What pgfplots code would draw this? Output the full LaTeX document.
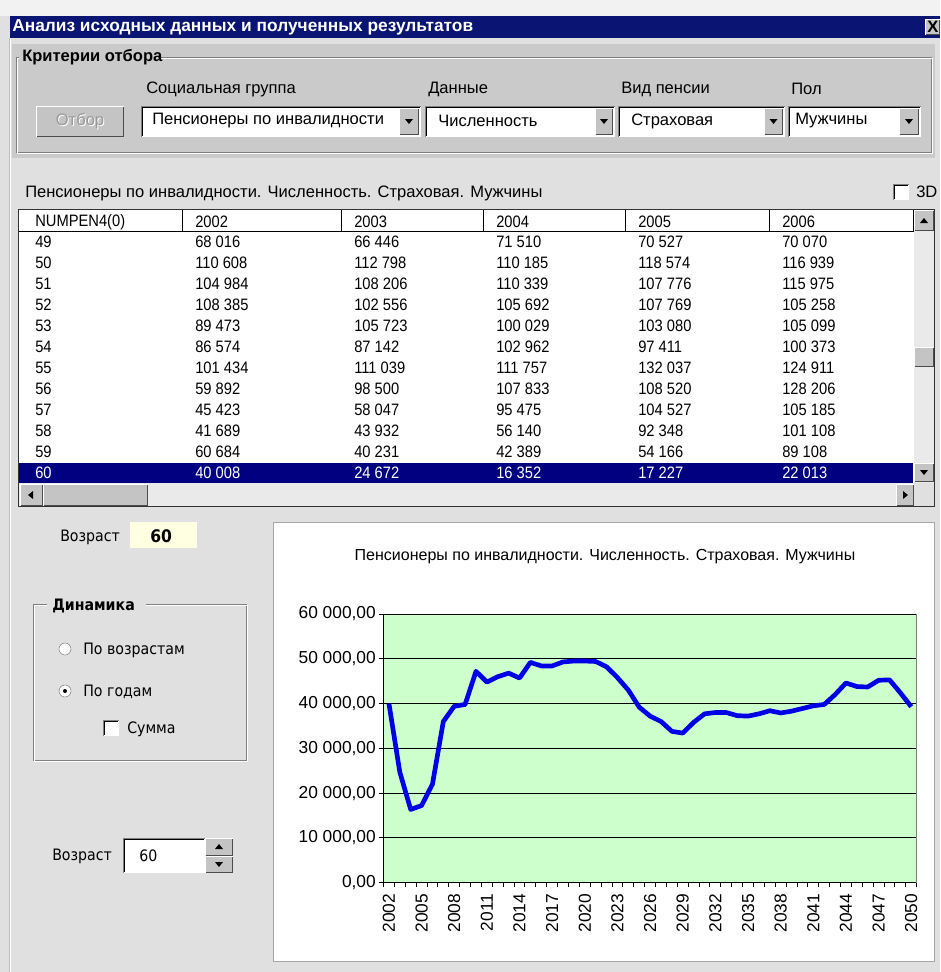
\documentclass[border=0pt]{standalone}
\usepackage{fontspec}
\usepackage{pgfplots}
\pgfplotsset{compat=1.18}
\setmainfont{Liberation Sans}
\newfontfamily\tah[FakeStretch=0.9]{DejaVu Sans}
\newfontfamily\narrow[FakeStretch=0.89]{Liberation Sans}
\definecolor{winbg}{RGB}{224,224,224}
\definecolor{grpbg}{RGB}{202,202,202}
\definecolor{navy}{RGB}{10,20,115}
\definecolor{selrow}{RGB}{0,0,128}
\definecolor{btn}{RGB}{196,196,196}
\definecolor{track}{RGB}{234,234,234}
\definecolor{plotgreen}{RGB}{204,255,204}
\definecolor{lineblue}{RGB}{0,0,230}
\definecolor{ylw}{RGB}{255,255,225}
\definecolor{dkgray}{RGB}{128,128,128}
\newcommand\uif{\fontsize{12.4pt}{14pt}\selectfont}
\newcommand\tabf{\narrow\fontsize{12.4pt}{14pt}\selectfont}
\newcommand\chf{\fontsize{13pt}{15pt}\selectfont}
\newcommand\titf{\fontsize{13pt}{15pt}\selectfont\bfseries}
\newcommand\tahf{\tah\fontsize{11.8pt}{13pt}\selectfont}
\newcommand\raised[4]{%
  \fill[btn] (#1,#2) rectangle (#3,#4);
  \draw[white] (#1+0.5,#4-0.5) -- (#1+0.5,#2+0.5) -- (#3-0.5,#2+0.5);
  \draw[black!70] (#1+0.5,#4-0.5) -- (#3-0.5,#4-0.5) -- (#3-0.5,#2+0.5);}
\newcommand\sunken[4]{%
  \fill[white] (#1,#2) rectangle (#3,#4);
  \draw[dkgray] (#1+0.5,#4-0.5) -- (#1+0.5,#2+0.5) -- (#3-0.5,#2+0.5);
  \draw[black] (#1+1.5,#4-1.5) -- (#1+1.5,#2+1.5) -- (#3-1.5,#2+1.5);
  \draw[white] (#1+0.5,#4-0.5) -- (#3-0.5,#4-0.5) -- (#3-0.5,#2+0.5);}
\newcommand\arrD[2]{\fill[black] (#1-4,#2-2) -- (#1+4,#2-2) -- (#1,#2+3) -- cycle;}
\newcommand\arrU[2]{\fill[black] (#1-4,#2+2) -- (#1+4,#2+2) -- (#1,#2-3) -- cycle;}
\newcommand\arrL[2]{\fill[black] (#1+2,#2-4) -- (#1+2,#2+4) -- (#1-3,#2) -- cycle;}
\newcommand\arrR[2]{\fill[black] (#1-2,#2-4) -- (#1-2,#2+4) -- (#1+3,#2) -- cycle;}
\newcommand\combo[5]{% x1 x2 arrowx1 text textx
  \sunken{#1}{106}{#2}{137}
  \raised{#3}{108}{#2-2}{135}
  \pgfmathsetmacro\ax{(#3+#2-2)/2}
  \arrD{\ax}{121}
  \node[anchor=west,inner sep=0,font=\uif] at (#5,121) {#4};}
\begin{document}
\begin{tikzpicture}[x=0.75pt,y=-0.75pt]
\path[use as bounding box] (0,0) rectangle (940,972);
\fill[winbg] (0,0) rectangle (940,972);
\fill[black!5] (0,0) rectangle (940,16);
% title bar
\fill[navy] (10,16) rectangle (940,38);
\node[anchor=west,inner sep=0,text=white,font=\titf] at (12,27.5) {Анализ исходных данных и полученных результатов};
\raised{925}{19}{940}{35}
\node[inner sep=0,font=\uif\bfseries] at (933,27) {X};
\draw[white] (10.5,38) -- (10.5,972);
\draw[black!25] (9.5,38) -- (9.5,972);
% criteria group
\fill[grpbg] (12,44) rectangle (935,158);
\draw[dkgray] (16,57) rectangle (931,152);
\draw[white] (17,58) rectangle (932,153);
\fill[grpbg] (19,46) rectangle (158,68);
\node[anchor=west,inner sep=0,font=\uif\bfseries] at (22,57) {Критерии отбора};
\node[anchor=west,inner sep=0,font=\uif] at (146,89) {Социальная группа};
\node[anchor=west,inner sep=0,font=\uif] at (428,89) {Данные};
\node[anchor=west,inner sep=0,font=\uif] at (621,89) {Вид пенсии};
\node[anchor=west,inner sep=0,font=\uif] at (791,89) {Пол};
\raised{36}{106}{124}{137}
\node[inner sep=0,font=\uif,text=white] at (81,122) {Отбор};
\node[inner sep=0,font=\uif,text=black!40] at (80,121) {Отбор};
\combo{141}{421}{399}{Пенсионеры по инвалидности}{152}
\combo{425}{615}{595}{Численность}{438}
\combo{618}{785}{764}{Страховая}{631}
\combo{788}{921}{899}{Мужчины}{795}
% caption and 3D checkbox
\node[anchor=west,inner sep=0,font=\uif] at (25,193) {Пенсионеры по инвалидности. Численность. Страховая. Мужчины};
\sunken{893}{184}{909}{200}
\node[anchor=west,inner sep=0,font=\uif] at (916,192) {3D};
% table
\fill[white] (18,209) rectangle (935,507);
\draw[black!80] (18.5,209.5) rectangle (934.5,506.5);
\draw[black] (19,231.5) -- (915,231.5);
\foreach \cx in {182,341,483,625,769,913} {\draw[black] (\cx+0.5,210) -- (\cx+0.5,231.5);}
\node[anchor=west,inner sep=0,font=\tabf] at (35,222) {NUMPEN4(0)};
\foreach \h/\hx in {2002/195,2003/354,2004/496,2005/638,2006/782}
  {\node[anchor=west,inner sep=0,font=\tabf] at (\hx,222) {\h};}
\fill[selrow] (19,463) rectangle (913,483);
\foreach \r/\a/\b/\c/\d/\e [count=\i from 0] in {%
 49/68 016/66 446/71 510/70 527/70 070,
 50/110 608/112 798/110 185/118 574/116 939,
 51/104 984/108 206/110 339/107 776/115 975,
 52/108 385/102 556/105 692/107 769/105 258,
 53/89 473/105 723/100 029/103 080/105 099,
 54/86 574/87 142/102 962/97 411/100 373,
 55/101 434/111 039/111 757/132 037/124 911,
 56/59 892/98 500/107 833/108 520/128 206,
 57/45 423/58 047/95 475/104 527/105 185,
 58/41 689/43 932/56 140/92 348/101 108,
 59/60 684/40 231/42 389/54 166/89 108,
 60/40 008/24 672/16 352/17 227/22 013}{%
  \pgfmathsetmacro\yy{242+21*\i}
  \ifnum\i=11 \def\tc{white}\else\def\tc{black}\fi
  \node[anchor=west,inner sep=0,font=\tabf,text=\tc] at (35,\yy) {\r};
  \node[anchor=west,inner sep=0,font=\tabf,text=\tc] at (195,\yy) {\a};
  \node[anchor=west,inner sep=0,font=\tabf,text=\tc] at (354,\yy) {\b};
  \node[anchor=west,inner sep=0,font=\tabf,text=\tc] at (496,\yy) {\c};
  \node[anchor=west,inner sep=0,font=\tabf,text=\tc] at (638,\yy) {\d};
  \node[anchor=west,inner sep=0,font=\tabf,text=\tc] at (782,\yy) {\e};
}
% scrollbars
\fill[track] (914,210) rectangle (934,483);
\raised{914}{210}{934}{231}\arrU{924}{221}
\raised{914}{347}{934}{367}
\raised{914}{463}{934}{482}\arrD{924}{472}
\fill[track] (19,483) rectangle (914,506);
\raised{20}{484}{43}{506}\arrL{31}{495}
\raised{43}{484}{148}{506}
\raised{896}{484}{914}{506}\arrR{905}{495}
\fill[winbg] (914,483) rectangle (934,506);
% left panel
\node[anchor=west,inner sep=0,font=\tahf] at (60,537) {Возраст};
\fill[ylw] (130,522) rectangle (197,548);
\node[anchor=west,inner sep=0,font=\tah\bfseries\fontsize{13pt}{15pt}\selectfont] at (150,536) {60};
\draw[dkgray] (33.5,604.5) rectangle (246.5,760.5);
\draw[white] (34.5,605.5) rectangle (247.5,761.5);
\fill[winbg] (47,595) rectangle (146,617);
\node[anchor=west,inner sep=0,font=\tahf\bfseries] at (52,606) {Динамика};
\fill[white] (65,649) circle (6);
\draw[dkgray] (65,649) circle (6);
\node[anchor=west,inner sep=0,font=\tahf] at (83,650) {По возрастам};
\fill[white] (65,691) circle (6);
\draw[dkgray] (65,691) circle (6);
\fill[black] (65,691) circle (2);
\node[anchor=west,inner sep=0,font=\tahf] at (83,692) {По годам};
\sunken{103}{720}{119}{736}
\node[anchor=west,inner sep=0,font=\tahf] at (127,729) {Сумма};
\node[anchor=west,inner sep=0,font=\tahf] at (52,856) {Возраст};
\sunken{123}{838}{205}{873}
\node[anchor=west,inner sep=0,font=\tahf] at (139,856) {60};
\raised{205}{838}{233}{856}\arrU{219}{847}
\raised{205}{856}{233}{873}\arrD{219}{864}
% chart panel
\fill[white] (273,522) rectangle (935,962);
\draw[black!35] (273.5,522.5) rectangle (934.5,961.5);
\node[inner sep=0,font=\fontsize{12pt}{14pt}\selectfont] at (605,557) {Пенсионеры по инвалидности. Численность. Страховая. Мужчины};
\begin{axis}[
  at={(287.625pt,-662.0pt)}, anchor=south west, scale only axis,
  width=399.9pt, height=201.5pt,
  xmin=2001.5, xmax=2050.5, ymin=0, ymax=60000,
  axis background/.style={fill=plotgreen},
  axis x line*=bottom, axis y line*=left,
  axis line style={black, line width=0.9pt, -},
  tick align=outside,
  scaled y ticks=false,
  xtick={2002,2005,...,2050},
  xticklabels={2002,2005,2008,2011,2014,2017,2020,2023,2026,2029,2032,2035,2038,2041,2044,2047,2050},
  major x tick style={draw=none},
  minor xtick={2001.5,2002.5,...,2050.5},
  minor x tick style={black, line width=0.75pt},
  minor tick length=3.6pt,
  ytick={0,10000,20000,30000,40000,50000,60000},
  yticklabels={{0,00},{10 000,00},{20 000,00},{30 000,00},{40 000,00},{50 000,00},{60 000,00}},
  major y tick style={black, line width=0.75pt},
  major tick length=3.6pt,
  ymajorgrids, grid style={black, line width=0.75pt},
  xticklabel style={rotate=90, anchor=east, font=\chf, inner sep=2pt},
  xticklabel shift=2.5pt,
  yticklabel style={font=\chf, inner sep=2pt},
  /pgf/number format/assume math mode=true,
  clip=false,
]
\addplot[color=lineblue, line width=3.5pt, line join=round, mark=none] table[x=year, y=value] {
year value
2002 40008
2003 24672
2004 16352
2005 17227
2006 22013
2007 36000
2008 39400
2009 39800
2010 47200
2011 44800
2012 46000
2013 46800
2014 45700
2015 49200
2016 48400
2017 48400
2018 49300
2019 49500
2020 49500
2021 49400
2022 48200
2023 45800
2024 43000
2025 39200
2026 37200
2027 36000
2028 33800
2029 33400
2030 35800
2031 37700
2032 38000
2033 38000
2034 37300
2035 37200
2036 37700
2037 38400
2038 37900
2039 38300
2040 38900
2041 39500
2042 39800
2043 42000
2044 44600
2045 43800
2046 43700
2047 45200
2048 45300
2049 42400
2050 39300
};
\draw[dkgray, line width=0.75pt] (rel axis cs:1,0) -- (rel axis cs:1,1);
\end{axis}
\end{tikzpicture}
\end{document}
